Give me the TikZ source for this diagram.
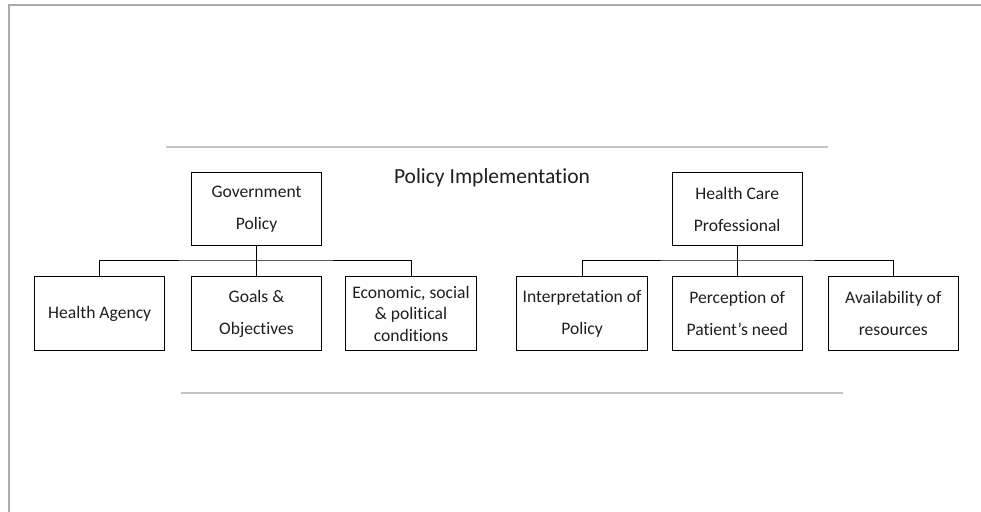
\documentclass[tikz,border=0pt]{standalone}
\usepackage{fontspec}
\setmainfont{Carlito}[RawFeature={-liga}]
\usepackage{tikz}
\usetikzlibrary{calc}

\definecolor{framegray}{HTML}{ABABAB}
\definecolor{rulegray}{HTML}{C4C4C4}
\definecolor{boxtext}{HTML}{1E1E1E}

\tikzset{
	box/.style={draw,line width=0.7pt,minimum width=3.25cm,minimum height=1.825cm,
		inner sep=1pt,align=center,text=boxtext,font=\fontsize{12.5}{15.3}\selectfont},
	link/.style={line width=0.7pt}
}

\begin{document}
\begin{tikzpicture}[x=0.025cm,y=-0.025cm]
	\useasboundingbox (0,0) rectangle (981,512);
	% slide frame and rules
	\draw[framegray,line width=1.4pt] (981,5) -- (9,5) -- (9,512);
	\draw[rulegray,line width=1.4pt] (166,147) -- (828,147);
	\draw[rulegray,line width=1.4pt] (181,393) -- (843,393);
	\node[text=boxtext,font=\fontsize{15.3}{18}\selectfont] (title) at (492,178) {Policy Implementation};
	% left tree
	\node[box] (gov) at (256.5,209) {Government\\[7.5pt]Policy};
	\node[box] (agency) at (99.7,313.5) {Health Agency};
	\node[box] (goals) at (256.5,313.5) {Goals \&\\[7.5pt]Objectives};
	\node[box] (econ) at (411,313.5) {Economic, social\\\& political\\conditions};
	\coordinate (busL) at (256.5,260);
	\draw[link] (gov.south) -- (goals.north);
	\draw[link] (agency.north) |- (busL) -| (econ.north);
	% right tree
	\node[box] (hcp) at (737.2,209) {Health Care\\[7.5pt]Professional};
	\node[box] (interp) at (582,313.5) {Interpretation of\\[7.5pt]Policy};
	\node[box] (percep) at (737.2,313.5) {Perception of\\[7.5pt]Patient’s need};
	\node[box] (avail) at (893.3,313.5) {Availability of\\[7.5pt]resources};
	\coordinate (busR) at (737.2,260);
	\draw[link] (hcp.south) -- (percep.north);
	\draw[link] (interp.north) |- (busR) -| (avail.north);
\end{tikzpicture}
\end{document}
